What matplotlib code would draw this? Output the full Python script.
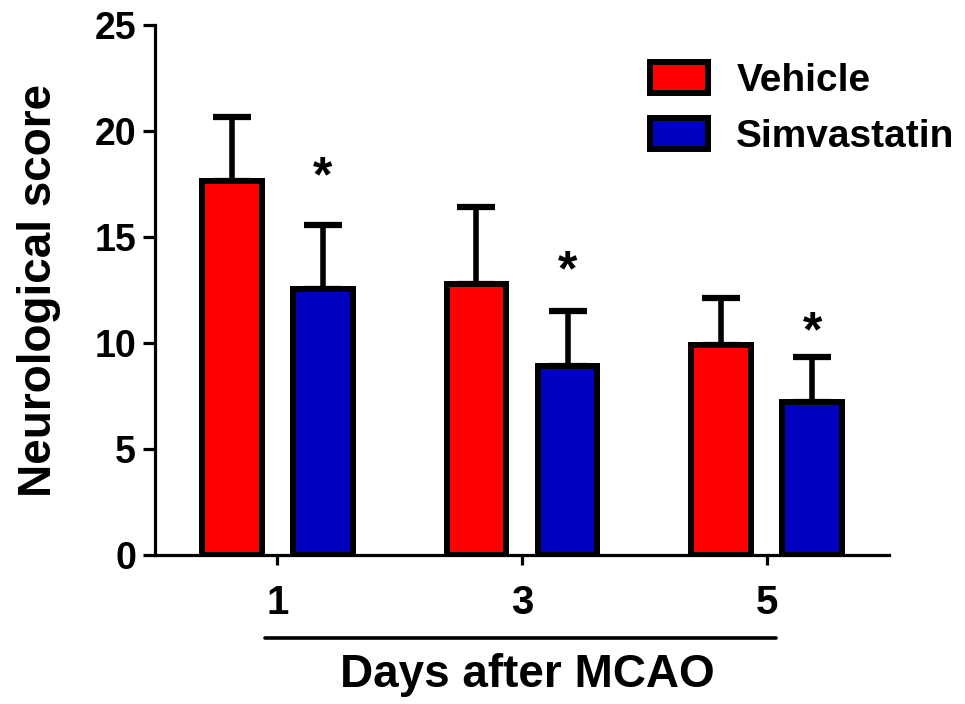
import matplotlib
matplotlib.use("Agg")
import matplotlib.pyplot as plt
import numpy as np

# ---- data ----
days = ["1", "3", "5"]
vehicle = [17.65, 12.8, 9.9]
vehicle_sd = [3.0, 3.6, 2.2]
simvastatin = [12.55, 8.9, 7.2]
simvastatin_sd = [3.0, 2.6, 2.15]
star_heights = [18.5, 14.06, 11.2]   # heights of significance marks
y_ticks = [0, 5, 10, 15, 20, 25]

plt.rcParams['font.family'] = ['Liberation Sans', 'DejaVu Sans']
plt.rcParams['font.weight'] = 'bold'

fig = plt.figure(figsize=(9.65, 7.04), dpi=100)
ax = fig.add_axes([155/965, 1-555/704, (889-155)/965, (555-25)/704])

x = np.arange(len(days))
width = 0.245
off = 0.186
lw = 4.3
red = '#FF0000'
blue = '#0000BF'

b1 = ax.bar(x - off, vehicle, width, color=red, edgecolor='black', linewidth=lw,
            label='Vehicle', zorder=3)
b2 = ax.bar(x + off, simvastatin, width, color=blue, edgecolor='black', linewidth=lw,
            label='Simvastatin', zorder=3)
ax.errorbar(x - off, vehicle, yerr=[np.zeros(len(x)), vehicle_sd], fmt='none',
            ecolor='black', elinewidth=4, capsize=13.5, capthick=4.5, zorder=2)
ax.errorbar(x + off, simvastatin, yerr=[np.zeros(len(x)), simvastatin_sd], fmt='none',
            ecolor='black', elinewidth=4, capsize=13.5, capthick=4.5, zorder=2)

star_fs = 36
for xi, h in zip(x + off, star_heights):
    ax.annotate('*', xy=(xi, h), xytext=(0, -0.57*star_fs), textcoords='offset points',
                ha='center', va='baseline', fontsize=star_fs, fontweight='bold')

ax.set_xlim(-0.5, 2.5)
ax.set_ylim(0, 25)
ax.set_yticks(y_ticks)
ax.set_xticks(x)
ax.set_xticklabels(days)

for s in ['top', 'right']:
    ax.spines[s].set_visible(False)
for s in ['left', 'bottom']:
    ax.spines[s].set_linewidth(2.3)

ax.tick_params(axis='y', direction='out', length=8.6, width=2.3, labelsize=27, pad=5)
ax.tick_params(axis='x', direction='out', length=7, width=2.3, labelsize=29, pad=14)
for t in ax.get_xticklabels() + ax.get_yticklabels():
    t.set_fontweight('bold')

ax.set_ylabel('Neurological score', fontsize=33, fontweight='bold', labelpad=24)

# group underline and x-axis title
trans = ax.get_xaxis_transform()
ax.plot([-0.05, 2.04], [-0.157, -0.157], color='black', lw=2.6, transform=trans,
        clip_on=False, solid_capstyle='round')
ax.text(1.02, -0.227, 'Days after MCAO', transform=trans, ha='center', va='center',
        fontsize=33, fontweight='bold')

leg = ax.legend(handles=[b1, b2], loc='upper left', bbox_to_anchor=(650/965, 1-62/704),
                bbox_transform=fig.transFigure, frameon=False, fontsize=28,
                handlelength=1.5, handleheight=0.85, handletextpad=0.72,
                labelspacing=0.5, borderpad=0, borderaxespad=0)
for t in leg.get_texts():
    t.set_fontweight('bold')

fig.savefig('out.png', dpi=100)
